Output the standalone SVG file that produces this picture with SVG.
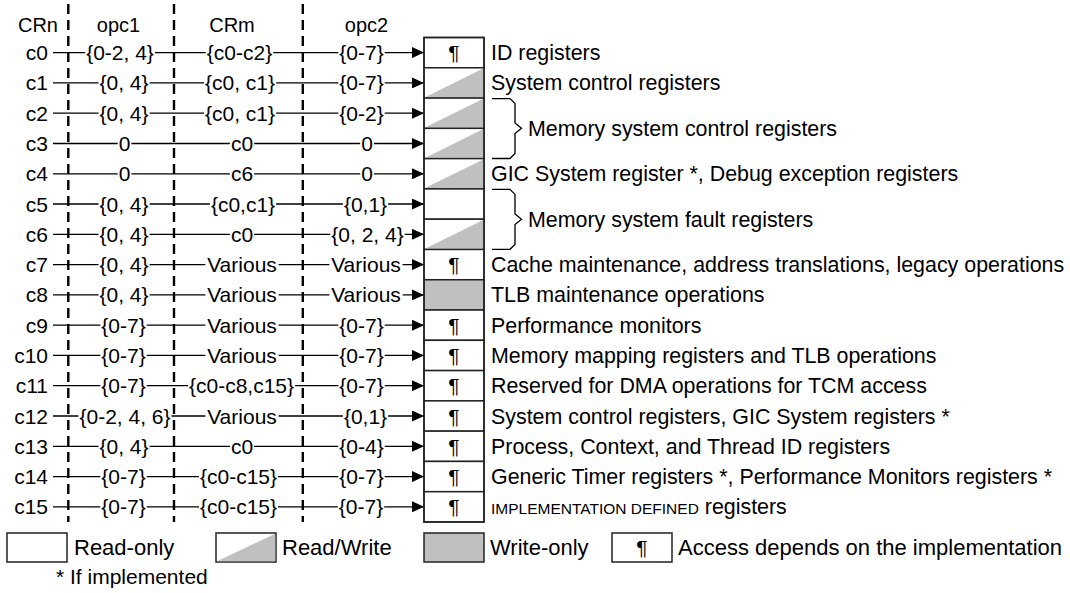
<svg xmlns="http://www.w3.org/2000/svg" width="1070" height="593" viewBox="0 0 1070 593">
<style>
text{font-family:"Liberation Sans",Arial,sans-serif;font-size:21px;fill:#000}
.hd{font-size:20px;text-anchor:middle}
.rl{text-anchor:end}
.fl{text-anchor:middle}
.ds{font-size:21.4px}
.lg{font-size:22px}
.wb{fill:#fff;stroke:none}
.ln{stroke:#000;stroke-width:1.3;fill:none}
.cn{stroke:#000;stroke-width:1.3;fill:none;marker-end:url(#ah)}
.dash{stroke:#000;stroke-width:2.4;stroke-dasharray:10 6;fill:none}
.box{fill:#fff;stroke:#222;stroke-width:1.5}
.wo{fill:#c0c0c0;stroke:#222;stroke-width:1.5}
.tri{fill:#c0c0c0;stroke:none}
.pil{text-anchor:middle}
.sc{font-size:15.5px}
</style>
<defs>
<marker id="ah" markerUnits="userSpaceOnUse" markerWidth="12" markerHeight="11" refX="12" refY="5.5" orient="auto">
<path d="M0,0 L12,5.5 L0,11 z" fill="#000"/>
</marker>
</defs>
<rect width="1070" height="593" fill="#fff"/>

<g id="header">
<text class="hd" x="38" y="32">CRn</text>
<text class="hd" x="118.5" y="32">opc1</text>
<text class="hd" x="232" y="32">CRm</text>
<text class="hd" x="366.5" y="32">opc2</text>
</g>

<g id="row-labels">
<text class="rl" x="48" y="60.1">c0</text>
<text class="rl" x="48" y="90.4">c1</text>
<text class="rl" x="48" y="120.7">c2</text>
<text class="rl" x="48" y="151">c3</text>
<text class="rl" x="48" y="181.3">c4</text>
<text class="rl" x="48" y="211.5">c5</text>
<text class="rl" x="48" y="241.8">c6</text>
<text class="rl" x="48" y="272.1">c7</text>
<text class="rl" x="48" y="302.4">c8</text>
<text class="rl" x="48" y="332.7">c9</text>
<text class="rl" x="48" y="362.9">c10</text>
<text class="rl" x="48" y="393.2">c11</text>
<text class="rl" x="48" y="423.5">c12</text>
<text class="rl" x="48" y="453.8">c13</text>
<text class="rl" x="48" y="484.1">c14</text>
<text class="rl" x="48" y="514.3">c15</text>
</g>

<g id="connectors">
<path class="cn" d="M53,52.6 H424"/>
<path class="cn" d="M53,82.9 H424"/>
<path class="cn" d="M53,113.2 H424"/>
<path class="cn" d="M53,143.5 H424"/>
<path class="cn" d="M53,173.8 H424"/>
<path class="cn" d="M53,204 H424"/>
<path class="cn" d="M53,234.3 H424"/>
<path class="cn" d="M53,264.6 H424"/>
<path class="cn" d="M53,294.9 H424"/>
<path class="cn" d="M53,325.2 H424"/>
<path class="cn" d="M53,355.4 H424"/>
<path class="cn" d="M53,385.7 H424"/>
<path class="cn" d="M53,416 H424"/>
<path class="cn" d="M53,446.3 H424"/>
<path class="cn" d="M53,476.6 H424"/>
<path class="cn" d="M53,506.8 H424"/>

<rect class="wb" x="85.2" y="43.6" width="69.7" height="18"/><rect class="wb" x="205.8" y="43.6" width="67.4" height="18"/><rect class="wb" x="338.3" y="43.6" width="46.4" height="18"/>
<rect class="wb" x="98.5" y="73.9" width="51.1" height="18"/><rect class="wb" x="204" y="73.9" width="72.1" height="18"/><rect class="wb" x="338.3" y="73.9" width="46.4" height="18"/>
<rect class="wb" x="98.5" y="104.2" width="51.1" height="18"/><rect class="wb" x="204" y="104.2" width="72.1" height="18"/><rect class="wb" x="338.3" y="104.2" width="46.4" height="18"/>
<rect class="wb" x="117.7" y="134.5" width="13.7" height="18"/><rect class="wb" x="229.9" y="134.5" width="24.2" height="18"/><rect class="wb" x="360.2" y="134.5" width="13.7" height="18"/>
<rect class="wb" x="117.7" y="164.8" width="13.7" height="18"/><rect class="wb" x="229.9" y="164.8" width="24.2" height="18"/><rect class="wb" x="360.2" y="164.8" width="13.7" height="18"/>
<rect class="wb" x="98.5" y="195" width="51.1" height="18"/><rect class="wb" x="209.9" y="195" width="66.2" height="18"/><rect class="wb" x="342.9" y="195" width="45.2" height="18"/>
<rect class="wb" x="98.5" y="225.3" width="51.1" height="18"/><rect class="wb" x="229.9" y="225.3" width="24.2" height="18"/><rect class="wb" x="330.3" y="225.3" width="74.4" height="18"/>
<rect class="wb" x="98.5" y="255.6" width="51.1" height="18"/><rect class="wb" x="205.4" y="255.6" width="73.2" height="18"/><rect class="wb" x="329.4" y="255.6" width="73.2" height="18"/>
<rect class="wb" x="98.5" y="285.9" width="51.1" height="18"/><rect class="wb" x="205.4" y="285.9" width="73.2" height="18"/><rect class="wb" x="329.4" y="285.9" width="73.2" height="18"/>
<rect class="wb" x="100.3" y="316.2" width="46.4" height="18"/><rect class="wb" x="205.4" y="316.2" width="73.2" height="18"/><rect class="wb" x="338.3" y="316.2" width="46.4" height="18"/>
<rect class="wb" x="100.3" y="346.4" width="46.4" height="18"/><rect class="wb" x="205.4" y="346.4" width="73.2" height="18"/><rect class="wb" x="338.3" y="346.4" width="46.4" height="18"/>
<rect class="wb" x="100.3" y="376.7" width="46.4" height="18"/><rect class="wb" x="188" y="376.7" width="107.1" height="18"/><rect class="wb" x="338.3" y="376.7" width="46.4" height="18"/>
<rect class="wb" x="78.4" y="407" width="93.1" height="18"/><rect class="wb" x="205.4" y="407" width="73.2" height="18"/><rect class="wb" x="342.9" y="407" width="45.2" height="18"/>
<rect class="wb" x="98.5" y="437.3" width="51.1" height="18"/><rect class="wb" x="229.9" y="437.3" width="24.2" height="18"/><rect class="wb" x="338.3" y="437.3" width="46.4" height="18"/>
<rect class="wb" x="100.3" y="467.6" width="46.4" height="18"/><rect class="wb" x="199" y="467.6" width="79" height="18"/><rect class="wb" x="338.3" y="467.6" width="46.4" height="18"/>
<rect class="wb" x="100.3" y="497.8" width="46.4" height="18"/><rect class="wb" x="199" y="497.8" width="79" height="18"/><rect class="wb" x="337.8" y="497.8" width="46.4" height="18"/>

<text class="fl" x="120" y="60.1">{0-2, 4}</text>
<text class="fl" x="239.5" y="60.1">{c0-c2}</text>
<text class="fl" x="361.5" y="60.1">{0-7}</text>

<text class="fl" x="124" y="90.4">{0, 4}</text>
<text class="fl" x="240" y="90.4">{c0, c1}</text>
<text class="fl" x="361.5" y="90.4">{0-7}</text>

<text class="fl" x="124" y="120.7">{0, 4}</text>
<text class="fl" x="240" y="120.7">{c0, c1}</text>
<text class="fl" x="361.5" y="120.7">{0-2}</text>

<text class="fl" x="124.5" y="151">0</text>
<text class="fl" x="242" y="151">c0</text>
<text class="fl" x="367" y="151">0</text>

<text class="fl" x="124.5" y="181.3">0</text>
<text class="fl" x="242" y="181.3">c6</text>
<text class="fl" x="367" y="181.3">0</text>

<text class="fl" x="124" y="211.5">{0, 4}</text>
<text class="fl" x="243" y="211.5">{c0,c1}</text>
<text class="fl" x="365.5" y="211.5">{0,1}</text>

<text class="fl" x="124" y="241.8">{0, 4}</text>
<text class="fl" x="242" y="241.8">c0</text>
<text class="fl" x="367.5" y="241.8">{0, 2, 4}</text>

<text class="fl" x="124" y="272.1">{0, 4}</text>
<text class="fl" x="242" y="272.1">Various</text>
<text class="fl" x="366" y="272.1">Various</text>

<text class="fl" x="124" y="302.4">{0, 4}</text>
<text class="fl" x="242" y="302.4">Various</text>
<text class="fl" x="366" y="302.4">Various</text>

<text class="fl" x="123.5" y="332.7">{0-7}</text>
<text class="fl" x="242" y="332.7">Various</text>
<text class="fl" x="361.5" y="332.7">{0-7}</text>

<text class="fl" x="123.5" y="362.9">{0-7}</text>
<text class="fl" x="242" y="362.9">Various</text>
<text class="fl" x="361.5" y="362.9">{0-7}</text>

<text class="fl" x="123.5" y="393.2">{0-7}</text>
<text class="fl" x="241.5" y="393.2">{c0-c8,c15}</text>
<text class="fl" x="361.5" y="393.2">{0-7}</text>

<text class="fl" x="125" y="423.5">{0-2, 4, 6}</text>
<text class="fl" x="242" y="423.5">Various</text>
<text class="fl" x="365.5" y="423.5">{0,1}</text>

<text class="fl" x="124" y="453.8">{0, 4}</text>
<text class="fl" x="242" y="453.8">c0</text>
<text class="fl" x="361.5" y="453.8">{0-4}</text>

<text class="fl" x="123.5" y="484.1">{0-7}</text>
<text class="fl" x="238.5" y="484.1">{c0-c15}</text>
<text class="fl" x="361.5" y="484.1">{0-7}</text>

<text class="fl" x="123.5" y="514.3">{0-7}</text>
<text class="fl" x="238.5" y="514.3">{c0-c15}</text>
<text class="fl" x="361" y="514.3">{0-7}</text>
</g>

<g id="columns">
<path class="dash" d="M68.3,4 V522"/>
<path class="dash" d="M174,4 V522"/>
<path class="dash" d="M302.8,4 V522"/>
</g>

<g id="reg-c0"><rect class="box" x="424" y="37.5" width="60" height="30.28"/><text class="pil" x="454" y="60.1">¶</text></g>
<g id="reg-c1"><rect class="box" x="424" y="67.78" width="60" height="30.28"/><path class="tri" d="M425,97.3 L483.2,68.5 V97.3 z"/></g>
<g id="reg-c2"><rect class="box" x="424" y="98.06" width="60" height="30.28"/><path class="tri" d="M425,127.6 L483.2,98.8 V127.6 z"/></g>
<g id="reg-c3"><rect class="box" x="424" y="128.34" width="60" height="30.28"/><path class="tri" d="M425,157.9 L483.2,129.1 V157.9 z"/></g>
<g id="reg-c4"><rect class="box" x="424" y="158.62" width="60" height="30.28"/><path class="tri" d="M425,188.1 L483.2,159.4 V188.1 z"/></g>
<g id="reg-c5"><rect class="box" x="424" y="188.9" width="60" height="30.28"/></g>
<g id="reg-c6"><rect class="box" x="424" y="219.18" width="60" height="30.28"/><path class="tri" d="M425,248.7 L483.2,219.9 V248.7 z"/></g>
<g id="reg-c7"><rect class="box" x="424" y="249.46" width="60" height="30.28"/><text class="pil" x="454" y="272.1">¶</text></g>
<g id="reg-c8"><rect class="wo" x="424" y="279.74" width="60" height="30.28"/></g>
<g id="reg-c9"><rect class="box" x="424" y="310.02" width="60" height="30.28"/><text class="pil" x="454" y="332.7">¶</text></g>
<g id="reg-c10"><rect class="box" x="424" y="340.3" width="60" height="30.28"/><text class="pil" x="454" y="362.9">¶</text></g>
<g id="reg-c11"><rect class="box" x="424" y="370.58" width="60" height="30.28"/><text class="pil" x="454" y="393.2">¶</text></g>
<g id="reg-c12"><rect class="box" x="424" y="400.86" width="60" height="30.28"/><text class="pil" x="454" y="423.5">¶</text></g>
<g id="reg-c13"><rect class="box" x="424" y="431.14" width="60" height="30.28"/><text class="pil" x="454" y="453.8">¶</text></g>
<g id="reg-c14"><rect class="box" x="424" y="461.42" width="60" height="30.28"/><text class="pil" x="454" y="484.1">¶</text></g>
<g id="reg-c15"><rect class="box" x="424" y="491.7" width="60" height="30.28"/><text class="pil" x="454" y="514.3">¶</text></g>
<rect x="424" y="37.5" width="60" height="484.5" fill="none" stroke="#222" stroke-width="1.5"/>

<g id="descriptions">
<text class="ds" x="491" y="60.1">ID registers</text>
<text class="ds" x="491" y="90.4">System control registers</text>
<path class="ln" d="M492,98.6 H510 L515,103.6 V123 L521.5,128.3 L515,133.6 V153.5 L510,158.5 H492"/>
<text class="ds" x="528" y="135.8">Memory system control registers</text>
<text class="ds" x="491" y="181.3">GIC System register *, Debug exception registers</text>
<path class="ln" d="M492,189.4 H510 L515,194.4 V213.9 L521.5,219.2 L515,224.5 V244.4 L510,249.3 H492"/>
<text class="ds" x="528" y="226.7">Memory system fault registers</text>
<text class="ds" x="491" y="272.1">Cache maintenance, address translations, legacy operations</text>
<text class="ds" x="491" y="302.4">TLB maintenance operations</text>
<text class="ds" x="491" y="332.7">Performance monitors</text>
<text class="ds" x="491" y="362.9">Memory mapping registers and TLB operations</text>
<text class="ds" x="491" y="393.2">Reserved for DMA operations for TCM access</text>
<text class="ds" x="491" y="423.5">System control registers, GIC System registers *</text>
<text class="ds" x="491" y="453.8">Process, Context, and Thread ID registers</text>
<text class="ds" x="491" y="484.1">Generic Timer registers *, Performance Monitors registers *</text>
<text class="ds" x="491" y="514.3"><tspan class="sc">IMPLEMENTATION DEFINED</tspan> registers</text>
</g>

<g id="legend">
<g id="legend-ro"><rect class="box" x="7" y="533" width="60" height="29"/><text class="lg" x="74" y="555">Read-only</text></g>
<g id="legend-rw"><rect class="box" x="216" y="533" width="60" height="29"/><path class="tri" d="M217,561.3 L275.2,533.8 V561.3 z"/><text class="lg" x="282" y="555">Read/Write</text></g>
<g id="legend-wo"><rect class="wo" x="424" y="533" width="60" height="29"/><text class="lg" x="490" y="555">Write-only</text></g>
<g id="legend-impl"><rect class="box" x="612" y="533" width="60" height="29"/><text class="pil" x="642" y="555">¶</text><text class="lg" x="678" y="555">Access depends on the implementation</text></g>
<text x="56" y="584">* If implemented</text>
</g>
</svg>
